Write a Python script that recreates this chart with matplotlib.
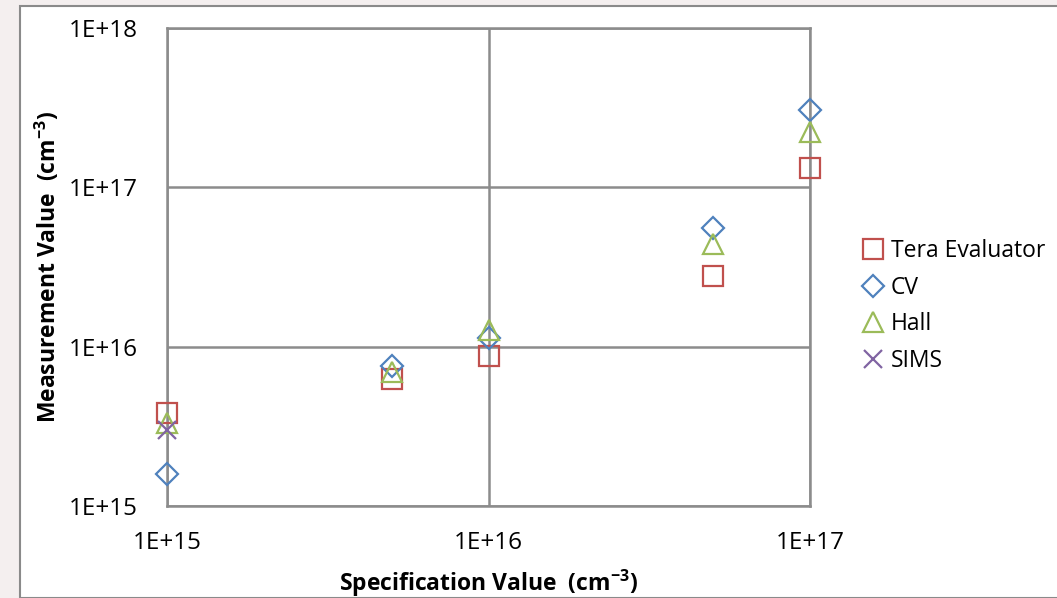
import matplotlib
matplotlib.use("Agg")
import matplotlib.pyplot as plt
from matplotlib.patches import Rectangle
from matplotlib.ticker import FixedLocator, NullLocator

spec = [1e15, 5e15, 1e16, 5e16, 1e17]
tera = [3.84e15, 6.27e15, 8.7e15, 2.78e16, 1.32e17]
cv = [1.59e15, 7.57e15, 1.13e16, 5.56e16, 3.06e17]
hall = [3.3e15, 6.9e15, 1.27e16, 4.4e16, 2.23e17]
sims_x = [1e15]
sims = [3.0e15]

xticks = [1e15, 1e16, 1e17]
xlabels = ["1E+15", "1E+16", "1E+17"]
yticks = [1e15, 1e16, 1e17, 1e18]
ylabels = ["1E+15", "1E+16", "1E+17", "1E+18"]

plt.rcParams['font.family'] = ['Open Sans', 'DejaVu Sans']
plt.rcParams['mathtext.fontset'] = 'custom'
plt.rcParams['mathtext.rm'] = 'Open Sans'
plt.rcParams['mathtext.bf'] = 'Open Sans:bold'

W, H = 1057, 598
fig = plt.figure(figsize=(W / 100, H / 100), dpi=100)
fig.patch.set_facecolor('#f4efef')
fig.patches.append(Rectangle((20 / W, 0), 1.2, (H - 6) / H, transform=fig.transFigure,
                             facecolor='white', edgecolor='#8a8a8a', linewidth=1.5, zorder=-5))

ax = fig.add_axes([167 / W, (H - 506) / H, (810 - 167) / W, (506 - 28) / H], zorder=2)
ax.set_xscale('log')
ax.set_yscale('log')
ax.set_xlim(1e15, 1e17)
ax.set_ylim(1e15, 1e18)
ax.set_facecolor('white')

ax.xaxis.set_major_locator(FixedLocator(xticks))
ax.yaxis.set_major_locator(FixedLocator(yticks))
ax.xaxis.set_minor_locator(NullLocator())
ax.yaxis.set_minor_locator(NullLocator())
ax.set_xticklabels(xlabels)
ax.set_yticklabels(ylabels)
ax.tick_params(axis='both', length=0, labelsize=17.5, colors='black')
ax.tick_params(axis='x', pad=18)
ax.tick_params(axis='y', pad=21)
ax.grid(True, color='#8c8c8c', linewidth=1.8)
for s in ax.spines.values():
    s.set_color('#8c8c8c')
    s.set_linewidth(1.8)

kw = dict(linestyle='none', markerfacecolor='none', markeredgewidth=1.6, clip_on=False, zorder=3)
ax.plot(spec, tera, marker='s', markersize=14, color='#C0504D', label='Tera Evaluator', **kw)
ax.plot(spec, cv, marker='D', markersize=11, color='#4F81BD', label='CV', **kw)
ax.plot(spec, hall, marker='^', markersize=15, color='#9BBB59', label='Hall', **kw)
ax.plot(sims_x, sims, marker='x', markersize=13, color='#8064A2', label='SIMS', **kw)

ax.set_xlabel('Specification Value  (cm$\\mathbf{^{-3}}$)', fontsize=16.5, fontweight='bold', labelpad=9)
ax.set_ylabel('Measurement Value  (cm$\\mathbf{^{-3}}$)', fontsize=16.5, fontweight='bold', labelpad=5)

leg = fig.legend(loc='upper left', bbox_to_anchor=(852 / W, (H - 230) / H), frameon=False,
                 fontsize=16.5, handlelength=1.0, handletextpad=0.3, labelspacing=0.55,
                 borderaxespad=0)
leg.set_zorder(3)

fig.savefig('out.png', dpi=100, facecolor=fig.get_facecolor())
